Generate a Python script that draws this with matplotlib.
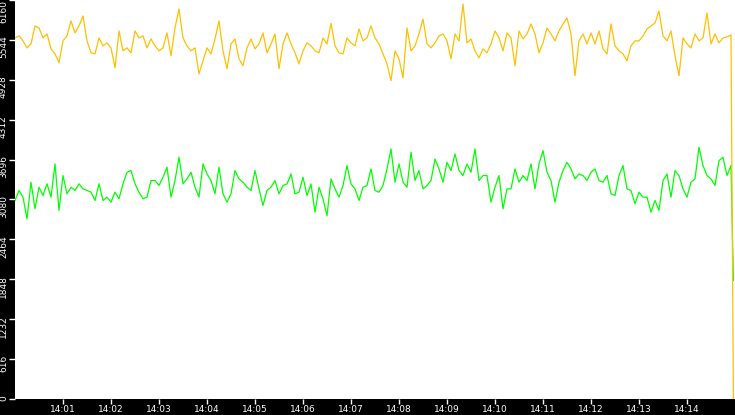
import numpy as np
import pandas as pd
import matplotlib
matplotlib.use('Agg')
import matplotlib.pyplot as plt
import matplotlib.dates as mdates
from matplotlib.transforms import ScaledTranslation

# samples every 5 s from 14:00:00
yellow_a = [5575, 5606, 5529, 5421, 5482, 5760, 5729, 5575, 5636, 5405,
            5328, 5190, 5529, 5606, 5837, 5652, 5760, 5914, 5529, 5344,
            5328, 5575, 5452, 5498, 5421, 5113, 5683, 5375, 5421, 5344,
            5683, 5575, 5606, 5421, 5559, 5452, 5375, 5421, 5652, 5298,
            5729, 6021, 5575, 5452, 5375, 5421, 5020, 5221, 5421, 5328,
            5559, 5837, 5375, 5100, 5482, 5559, 5251, 5144, 5421]
yellow_b = [5559, 5405, 5482, 5652, 5344, 5482, 5636, 5100, 5482, 5652,
            5482, 5344, 5174, 5375, 5498, 5452, 5375, 5344, 5575, 5482,
            5800, 5452, 5344, 5328, 5575, 5498, 5452, 5713, 5529, 5575,
            5760, 5575, 5482, 5328, 5174, 4913, 5375, 5251, 4960, 5729,
            5375, 5452, 5636, 5867, 5482, 5421, 5498, 5606, 5636, 5529,
            5251, 5636, 5529, 6098, 5498, 5559, 5375, 5267, 5405, 5344]
yellow_c = [5482, 5683, 5575, 5375, 5652, 5575, 5144, 5683, 5559, 5636,
            5790, 5636, 5344, 5498, 5729, 5636, 5529, 5683, 5790, 5883,
            5636, 4990, 5529, 5636, 5482, 5652, 5482, 5683, 5405, 5328,
            5790, 5452, 5375, 5328, 5221, 5452, 5529, 5529, 5606, 5713,
            5760, 5806, 5991, 5606, 5529, 5683, 5298, 4990, 5575, 5482,
            5421, 5636, 5529, 5575, 5960, 5482, 5636, 5498, 5575, 5590,
            5621]

green_a = [3065, 3219, 3116, 2783, 3347, 2937, 3270, 3142, 3322, 3116,
           3630, 2911, 3450, 3168, 3270, 3219, 3322, 3245, 3219, 3193,
           3065, 3322, 3065, 3116, 3039, 3193, 3091, 3322, 3501, 3527,
           3322, 3193, 3091, 3116, 3373, 3373, 3296, 3424, 3578, 3116,
           3373, 3732, 3322, 3399, 3501, 3270, 3116, 3630, 3476, 3373,
           3168, 3578, 3168, 3039, 3168, 3527, 3399, 3347, 3270]
green_b = [3219, 3527, 3244, 2988, 3219, 3270, 3373, 3168, 3296, 3321,
           3475, 3168, 3193, 3424, 3142, 3321, 2885, 3270, 3090, 2830,
           3398, 3244, 3116, 3296, 3604, 3321, 3244, 3065, 3270, 3296,
           3552, 3219, 3193, 3296, 3552, 3860, 3347, 3629, 3347, 3270,
           3809, 3373, 3527, 3244, 3296, 3373, 3706, 3552, 3347, 3655,
           3527, 3783, 3527, 3450, 3629, 3501, 3860, 3373, 3450, 3450]
green_c = [3039, 3270, 3450, 2936, 3244, 3244, 3552, 3347, 3450, 3373,
           3629, 3244, 3629, 3835, 3501, 3373, 3039, 3347, 3527, 3655,
           3552, 3398, 3475, 3450, 3373, 3501, 3552, 3373, 3347, 3450,
           3168, 3142, 3450, 3604, 3244, 3219, 3014, 3193, 3116, 3116,
           2885, 3065, 2911, 3373, 3475, 3116, 3527, 3450, 3244, 3116,
           3347, 3398, 3886, 3604, 3450, 3398, 3296, 3681, 3732, 3450,
           3604]

# last sample where both series fall away
yellow_end = 0
green_end = 1830

y_ticks = [0, 616, 1232, 1848, 2464, 3080, 3696, 4312, 4928, 5544, 6160]

yellow = yellow_a + yellow_b + yellow_c + [yellow_end]
green = green_a + green_b + green_c + [green_end]

start = pd.Timestamp('2024-01-01 14:00:00')
times = list(pd.date_range(start, periods=len(yellow) - 1, freq='5s'))
times.append(start + pd.Timedelta(seconds=898))

fig = plt.figure(figsize=(7.35, 4.15), dpi=100, facecolor='black')
ax = fig.add_axes([15 / 735, 16 / 415, 720 / 735, 399 / 415])
ax.set_facecolor('white')

ax.plot(times, green, color='#00ff00', lw=0.9)
ax.plot(times, yellow, color='#ffc000', lw=0.9)

ax.set_xlim(start, start + pd.Timedelta(minutes=15))
ax.set_ylim(0, 6160)

for s in ax.spines.values():
    s.set_visible(False)

ax.xaxis.set_major_locator(mdates.MinuteLocator(byminute=range(1, 15)))
ax.xaxis.set_major_formatter(mdates.DateFormatter('%H:%M'))
ax.set_yticks(y_ticks)
ax.set_yticklabels([str(v) for v in y_ticks])

ax.tick_params(axis='x', colors='white', length=3.5, width=1, pad=0.5, labelsize=6.5)
ax.tick_params(axis='y', colors='white', length=4, width=1, pad=1, labelsize=6.5)

shift = ScaledTranslation(0, 3 / 72, fig.dpi_scale_trans)
labels = ax.get_yticklabels()
for i, lab in enumerate(labels):
    lab.set_rotation(90)
    lab.set_va('top')
    if i < len(labels) - 1:
        # the top label stays inside the figure
        lab.set_transform(lab.get_transform() + shift)

fig.savefig('out.png', dpi=100, facecolor='black')
